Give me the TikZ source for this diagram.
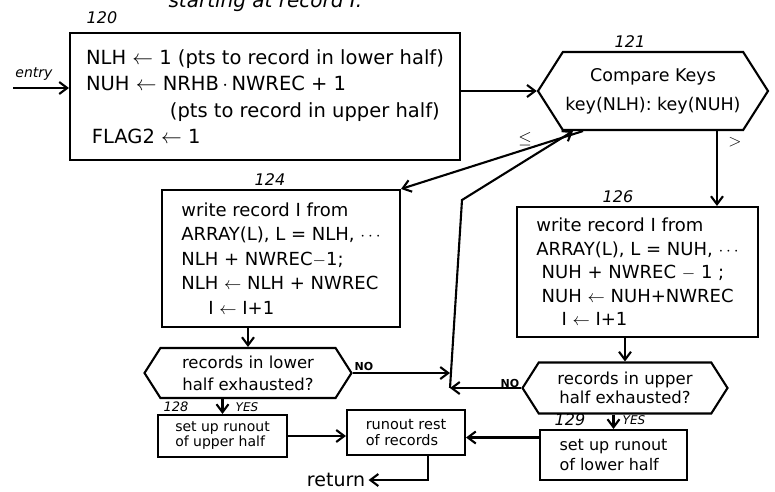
\documentclass[tikz,border=0pt]{standalone}
\usepackage{fontspec}
\setmainfont{DejaVu Sans}
\usetikzlibrary{positioning,arrows.meta,shapes.symbols}

\begin{document}
\begin{tikzpicture}[x=1pt,y=-1pt,>={Straight Barb[length=8pt,width=12pt]},
   every node/.style={font=\fontsize{14}{17}\selectfont},
   box/.style={draw,line width=2.1pt,inner sep=2pt},
   hexa/.style={draw,line width=2.1pt,signal,signal to=east and west,
     signal pointer angle=115,inner sep=0pt,align=center},
   flow/.style={line width=2.1pt,->},
   tag/.style={font=\fontsize{16}{16}\selectfont\itshape}]
  \useasboundingbox[fill=white] (0,0) rectangle (775,491);
  \clip (0,0) rectangle (775,491);

  \node[anchor=base west,font=\fontsize{20}{20}\selectfont\itshape] (ttl) at (165,7) {starting at record I.};

  % initialise and compare
  \node[box,minimum width=390,minimum height=127,align=left,
        font=\fontsize{19.5}{26.5}\selectfont] (b120) at (265,96.5)
    {NLH $\leftarrow$ 1 (pts to record in lower half)\\
     NUH $\leftarrow$ NRHB$\,\cdot\,$NWREC + 1\\
     \hspace*{4.3em}(pts to record in upper half)\\
     \hspace*{0.3em}FLAG2 $\leftarrow$ 1};
  \node[tag] (l120) at (102,18) {120};
  \node[hexa,minimum width=230,minimum height=78,
        font=\fontsize{17.5}{29}\selectfont] (d121) at (653,91)
    {Compare Keys\\ key(NLH): key(NUH)};
  \node[tag] (l121) at (630,42) {121};
  \coordinate (entry) at (13,88);
  \node[font=\fontsize{14}{14}\selectfont\itshape] (lentry) at (34,74) {entry};

  % lower half
  \node[box,minimum width=238,minimum height=137,align=left,
        font=\fontsize{18}{24.5}\selectfont] (b124) at (281,258.5)
    {write record I from\\
     ARRAY(L), L = NLH, $\cdots$\\
     NLH + NWREC$-$1;\\
     NLH $\leftarrow$ NLH + NWREC\\
     \hspace*{1.5em}I $\leftarrow$ I+1};
  \node[tag] (l124) at (270,180) {124};
  \node[hexa,minimum width=207,minimum height=50,
        font=\fontsize{16.5}{22}\selectfont] (dlow) at (248,373)
    {records in lower\\ half exhausted?};
  \node[box,minimum width=129,minimum height=42,align=left,inner sep=1pt,
        font=\fontsize{14}{15}\selectfont] (b128) at (222.5,436)
    {set up runout\\ of upper half};
  \node[tag,font=\fontsize{13}{13}\selectfont\itshape] (l128) at (176,407) {128};

  % upper half
  \node[box,minimum width=241,minimum height=130,align=left,
        font=\fontsize{18}{23.5}\selectfont] (b126) at (637.5,272)
    {write record I from\\
     ARRAY(L), L = NUH, $\cdots$\\
     \hspace*{0.3em}NUH + NWREC $-$ 1 ;\\
     \hspace*{0.3em}NUH $\leftarrow$ NUH+NWREC\\
     \hspace*{1.4em}I $\leftarrow$ I+1};
  \node[tag] (l126) at (618,197) {126};
  \node[hexa,minimum width=205,minimum height=51,
        font=\fontsize{16.5}{19}\selectfont] (dup) at (625,388)
    {records in upper\\ half exhausted?};
  \node[box,minimum width=147,minimum height=50,align=left,
        font=\fontsize{16}{20}\selectfont] (b129) at (613.5,455)
    {set up runout\\ of lower half};
  \node[tag] (l129) at (570,420) {129};

  % runout
  \node[box,minimum width=118,minimum height=45,align=left,inner sep=1pt,
        font=\fontsize{14.5}{15.5}\selectfont] (brun) at (406,432.5)
    {runout rest\\ of records};
  \node[font=\fontsize{19}{19}\selectfont] (ret) at (336,480) {return};

  % branch labels
  \node[font=\fontsize{18}{18}\selectfont] (le) at (525,139) {$\leq$};
  \node[font=\fontsize{18}{18}\selectfont] (gt) at (735,142) {$>$};
  \node[font=\fontsize{11}{11}\selectfont\bfseries] (no1) at (364,366) {NO};
  \node[font=\fontsize{11}{11}\selectfont\bfseries] (no2) at (510,383) {NO};
  \node[font=\fontsize{12}{12}\selectfont\itshape] (yes1) at (247,407) {YES};
  \node[font=\fontsize{12}{12}\selectfont\itshape] (yes2) at (634,420) {YES};

  \coordinate (jn) at (450,388);
  \coordinate (bend) at (462,200);

  \draw[flow] (entry) -- (entry -| b120.west);
  \draw[flow] (b120.east |- d121.west) -- (d121.west);
  \draw[flow] ([xshift=-70pt]d121.south) -- (b124.north east);
  \draw[flow] ([xshift=64pt]d121.south) -- ([xshift=64pt]d121.south |- b126.north);
  \draw[flow] (b124.south -| dlow.north) -- (dlow.north);
  \draw[flow] (b126.south -| dup.north) -- (dup.north);
  \draw[flow] (dlow.east) -- (dlow.east -| jn);
  \draw[flow] (dup.west) -- (jn);
  \draw[flow] (jn) -- (bend) -- ([xshift=-80pt]d121.south);
  \draw[flow] (b128.north |- dlow.south) -- (b128.north);
  \draw[flow] (b129.north |- dup.south) -- (b129.north);
  \draw[flow] (b128.east) -- (b128.east -| brun.west);
  \draw[flow] ([yshift=-5pt]brun.east -| b129.west) -- ([yshift=-5pt]brun.east);
  \draw[flow] ([xshift=22pt]brun.south) |- (ret.east);
\end{tikzpicture}
\end{document}
